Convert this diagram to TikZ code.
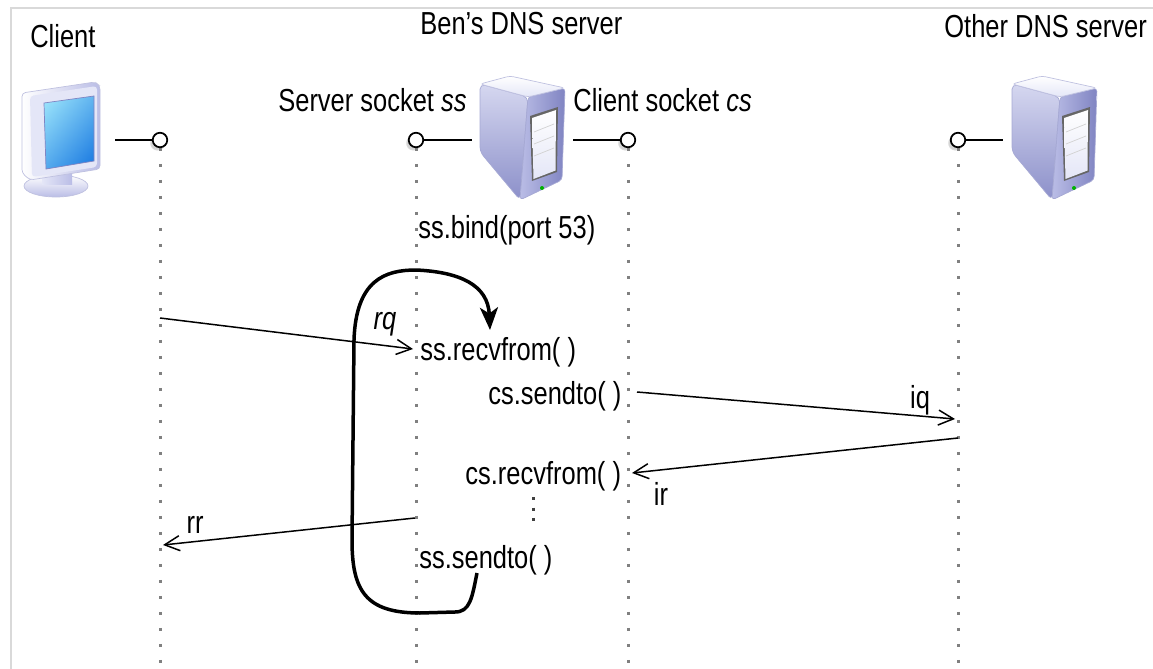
\documentclass[tikz,border=0pt]{standalone}
\usepackage{fontspec}
\setmainfont{Liberation Sans}
\usetikzlibrary{arrows.meta,shadows,shadings}
\definecolor{lavlight}{RGB}{228,230,247}
\definecolor{lavmid}{RGB}{186,189,230}
\definecolor{lavdark}{RGB}{128,132,194}
\definecolor{scrtop}{RGB}{160,232,252}
\definecolor{scrbot}{RGB}{22,118,224}
\newcommand{\tallt}[1]{\scalebox{1}[1.25]{#1}}
\tikzset{
  monitor/.pic={
    \shade[top color=white,bottom color=lavmid,draw=lavdark!50] (34,106) ellipse [x radius=32,y radius=11];
    \shade[left color=lavlight,right color=lavmid] (20,90) rectangle (50,104);
    \shade[left color=white,right color=lavmid,draw=lavdark!50,rounded corners=2pt] (0,13) -- (73,2) -- (78,6) -- (78,89) -- (8,100) -- (0,93) -- cycle;
    \fill[lavlight,rounded corners=2pt] (8,16) -- (75,6) -- (75,87) -- (10,97) -- cycle;
    \shade[upper left=scrtop,upper right=scrtop!55!scrbot,lower left=scrtop!45!scrbot,lower right=scrbot,draw=lavdark] (22,23) -- (72,16) -- (72,81) -- (24,89) -- cycle;
  },
  tower/.pic={
    \shade[top color=lavmid!60!white,bottom color=lavdark!80!lavmid,draw=lavdark!70,rounded corners=3pt] (0,4) -- (48,17) -- (40,120) -- (0,72) -- cycle;
    \shade[left color=lavmid,right color=lavdark,draw=lavdark!70,rounded corners=2pt] (48,17) -- (85,8) -- (82,100) -- (40,120) -- cycle;
    \shade[top color=white,bottom color=lavlight,draw=lavdark!50,rounded corners=2pt] (0,4) -- (30,-4) -- (85,8) -- (48,17) -- cycle;
    \fill[black!60] (50,36) -- (78,27) -- (77,92) -- (52,101) -- cycle;
    \shade[top color=white,bottom color=lavlight] (52,38) -- (76,30) -- (75.5,90.5) -- (53.5,99) -- cycle;
    \foreach \h in {52,64,76} \draw[gray!35] (54,\h) -- (74,\h-8);
    \fill[green!70!black] (62,108) circle [radius=2];
  }
}
\begin{document}
\begin{tikzpicture}[x=0.02cm,y=-0.02cm,
  lbl/.style={anchor=base west,inner sep=0pt,font=\fontsize{14.5}{17}\selectfont},
  tag/.style={inner sep=0pt,font=\fontsize{14.5}{17}\selectfont},
  sock/.style={circle,draw,line width=0.35mm,fill=white,minimum size=2.9mm,inner sep=0pt,
    circular drop shadow={shadow xshift=-0.5mm,shadow yshift=-0.5mm,opacity=0.35}},
  stub/.style={line width=0.4mm},
  life/.style={gray,line width=0.6mm,dash pattern=on 0.6mm off 2.6mm},
  msg/.style={line width=0.3mm,-{Straight Barb[length=3mm,width=3mm]}},
  loopline/.style={line width=0.7mm,-{Stealth[length=4.5mm,width=3.6mm,inset=1.2mm]}}]
\useasboundingbox (0,0) rectangle (1153,669);
\draw[gray!30,line width=0.3mm] (11,669) -- (11,8) -- (1153,8);

\node[lbl] (tclient) at (30,48) {\tallt{Client}};
\node[lbl] (tben) at (420,35) {\tallt{Ben's DNS server}};
\node[lbl] (tother) at (944,38) {\tallt{Other DNS server}};
\node[lbl] (tss) at (278,112) {\tallt{Server socket \textit{ss}}};
\node[lbl] (tcs) at (573,112) {\tallt{Client socket \textit{cs}}};

\pic at (22,80) {monitor};
\pic at (480,80) {tower};
\pic at (1012,80) {tower};

\foreach \s/\x in {cl/160,ss/416,cs/628,ot/958}{
  \coordinate (\s-b) at (\x,669);
  \draw[life] (\x,148) -- (\s-b);
  \node[sock] (\s) at (\x,140) {};
}
\coordinate (cl-s) at (115,140);
\coordinate (ss-s) at (472,140);
\coordinate (cs-s) at (573,140);
\coordinate (ot-s) at (1003,140);
\foreach \s in {cl,ss,cs,ot} \draw[stub] (\s) -- (\s-s);

\node[lbl] (bind) at (418,238) {\tallt{ss.bind(port 53)}};
\node[lbl] (ssrecv) at (420,360) {\tallt{ss.recvfrom( )}};
\node[lbl] (cssend) at (488,404) {\tallt{cs.sendto( )}};
\node[lbl] (csrecv) at (465,484) {\tallt{cs.recvfrom( )}};
\node[lbl] (sssend) at (419,568) {\tallt{ss.sendto( )}};

\coordinate (wa) at (533,497);
\coordinate (wb) at (533,524);
\draw[black!75,line width=0.6mm,dash pattern=on 0.6mm off 1.5mm] (wa) -- (wb);

\coordinate (rq-a) at (160,318);
\coordinate (rq-b) at (413,349);
\coordinate (iq-a) at (637,392);
\coordinate (iq-b) at (955,419);
\coordinate (ir-a) at (958,438);
\coordinate (ir-b) at (632,473);
\coordinate (rr-a) at (415,518);
\coordinate (rr-b) at (163,545);
\draw[msg] (rq-a) -- (rq-b);
\draw[msg] (iq-a) -- (iq-b);
\draw[msg] (ir-a) -- (ir-b);
\draw[msg] (rr-a) -- (rr-b);
\node[tag] (rq) at (385,324) {\tallt{\textit{rq}}};
\node[tag] (iq) at (920,400) {\tallt{iq}};
\node[tag] (ir) at (661,494) {\tallt{ir}};
\node[tag] (rr) at (195,525) {\tallt{rr}};

\coordinate (lp-s) at (477,573);
\coordinate (lp-e) at (490,330);
\draw[loopline] (lp-s) .. controls (472,598) and (470,612) .. (455,612) -- (420,613)
  .. controls (365,613) and (352,590) .. (352,540) -- (354,340)
  .. controls (356,280) and (385,270) .. (416,270) .. controls (460,272) and (488,285) .. (lp-e);
\end{tikzpicture}
\end{document}
